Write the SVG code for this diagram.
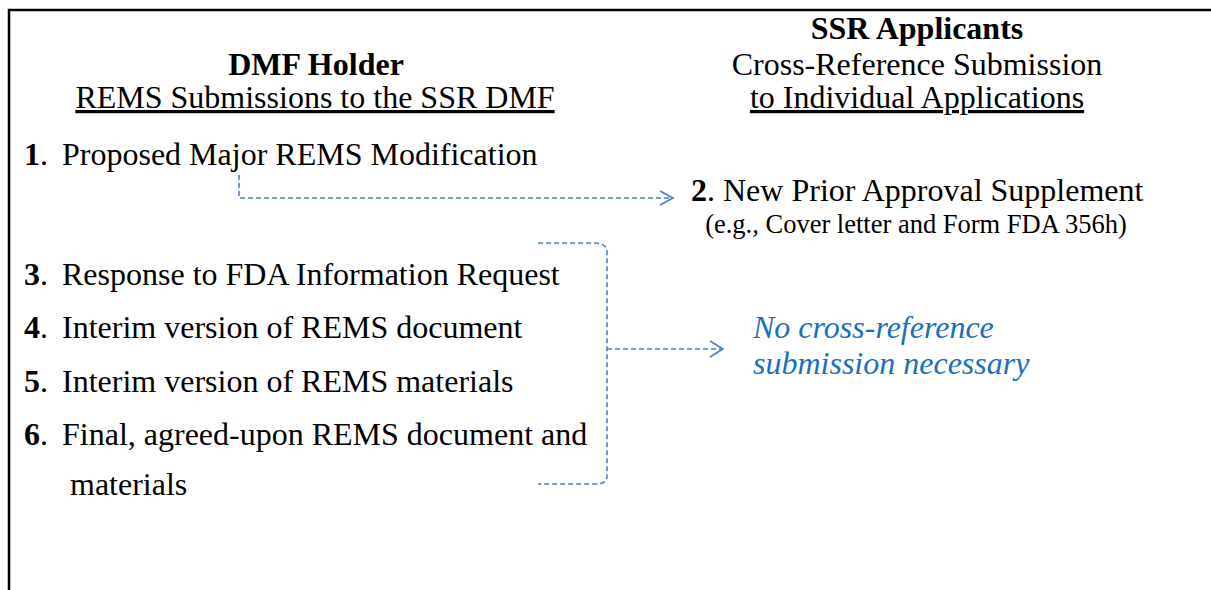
<svg xmlns="http://www.w3.org/2000/svg" width="1211" height="590" viewBox="0 0 1211 590">
<style>
text{font-family:"Liberation Serif","Times New Roman",serif;fill:#000;font-size:32px}
.b{font-weight:bold}
.u{text-decoration:underline}
.sm{font-size:26.5px}
.note{fill:#1a6fc0;font-style:italic}
.conn{fill:none;stroke:#4a7fc4;stroke-width:1.6;stroke-dasharray:5 3}
.head{fill:none;stroke:#4a7fc4;stroke-width:1.6}
</style>
<rect width="1211" height="590" fill="#fff"/>
<path d="M9 590 V10 H1211" fill="none" stroke="#000" stroke-width="2.5"/>
<g id="hdr-left">
<text x="316" y="75" text-anchor="middle" class="b">DMF Holder</text>
<text x="315" y="108" text-anchor="middle" class="u">REMS Submissions to the SSR DMF</text>
</g>
<g id="hdr-right">
<text x="917" y="39" text-anchor="middle" class="b">SSR Applicants</text>
<text x="917" y="75" text-anchor="middle">Cross-Reference Submission</text>
<text x="917" y="108" text-anchor="middle" class="u">to Individual Applications</text>
</g>
<g id="item1"><text y="165"><tspan x="24" class="b">1</tspan><tspan>.</tspan><tspan x="62">Proposed Major REMS Modification</tspan></text></g>
<g id="item2">
<text x="691" y="201"><tspan class="b">2</tspan>. New Prior Approval Supplement</text>
<text x="916" y="233" text-anchor="middle" class="sm">(e.g., Cover letter and Form FDA 356h)</text>
</g>
<g id="item3"><text y="285"><tspan x="24" class="b">3</tspan><tspan>.</tspan><tspan x="62">Response to FDA Information Request</tspan></text></g>
<g id="item4"><text y="338"><tspan x="24" class="b">4</tspan><tspan>.</tspan><tspan x="62">Interim version of REMS document</tspan></text></g>
<g id="item5"><text y="392"><tspan x="24" class="b">5</tspan><tspan>.</tspan><tspan x="62">Interim version of REMS materials</tspan></text></g>
<g id="item6">
<text y="445"><tspan x="24" class="b">6</tspan><tspan>.</tspan><tspan x="62">Final, agreed-upon REMS document and</tspan></text>
<text x="70" y="495">materials</text>
</g>
<g id="note">
<text x="753" y="338" class="note">No cross-reference</text>
<text x="753" y="374" class="note">submission necessary</text>
</g>
<g id="connectors">
<path class="conn" d="M239 175 V198 H672"/>
<path class="head" d="M660 191 L673 198 L660 205"/>
<path class="conn" d="M538 243 H596 Q607 244 607 252 V476 Q607 484 596 484 H538"/>
<path class="conn" d="M607 349 H722"/>
<path class="head" d="M710 341 L723 349 L710 357"/>
</g>
</svg>
